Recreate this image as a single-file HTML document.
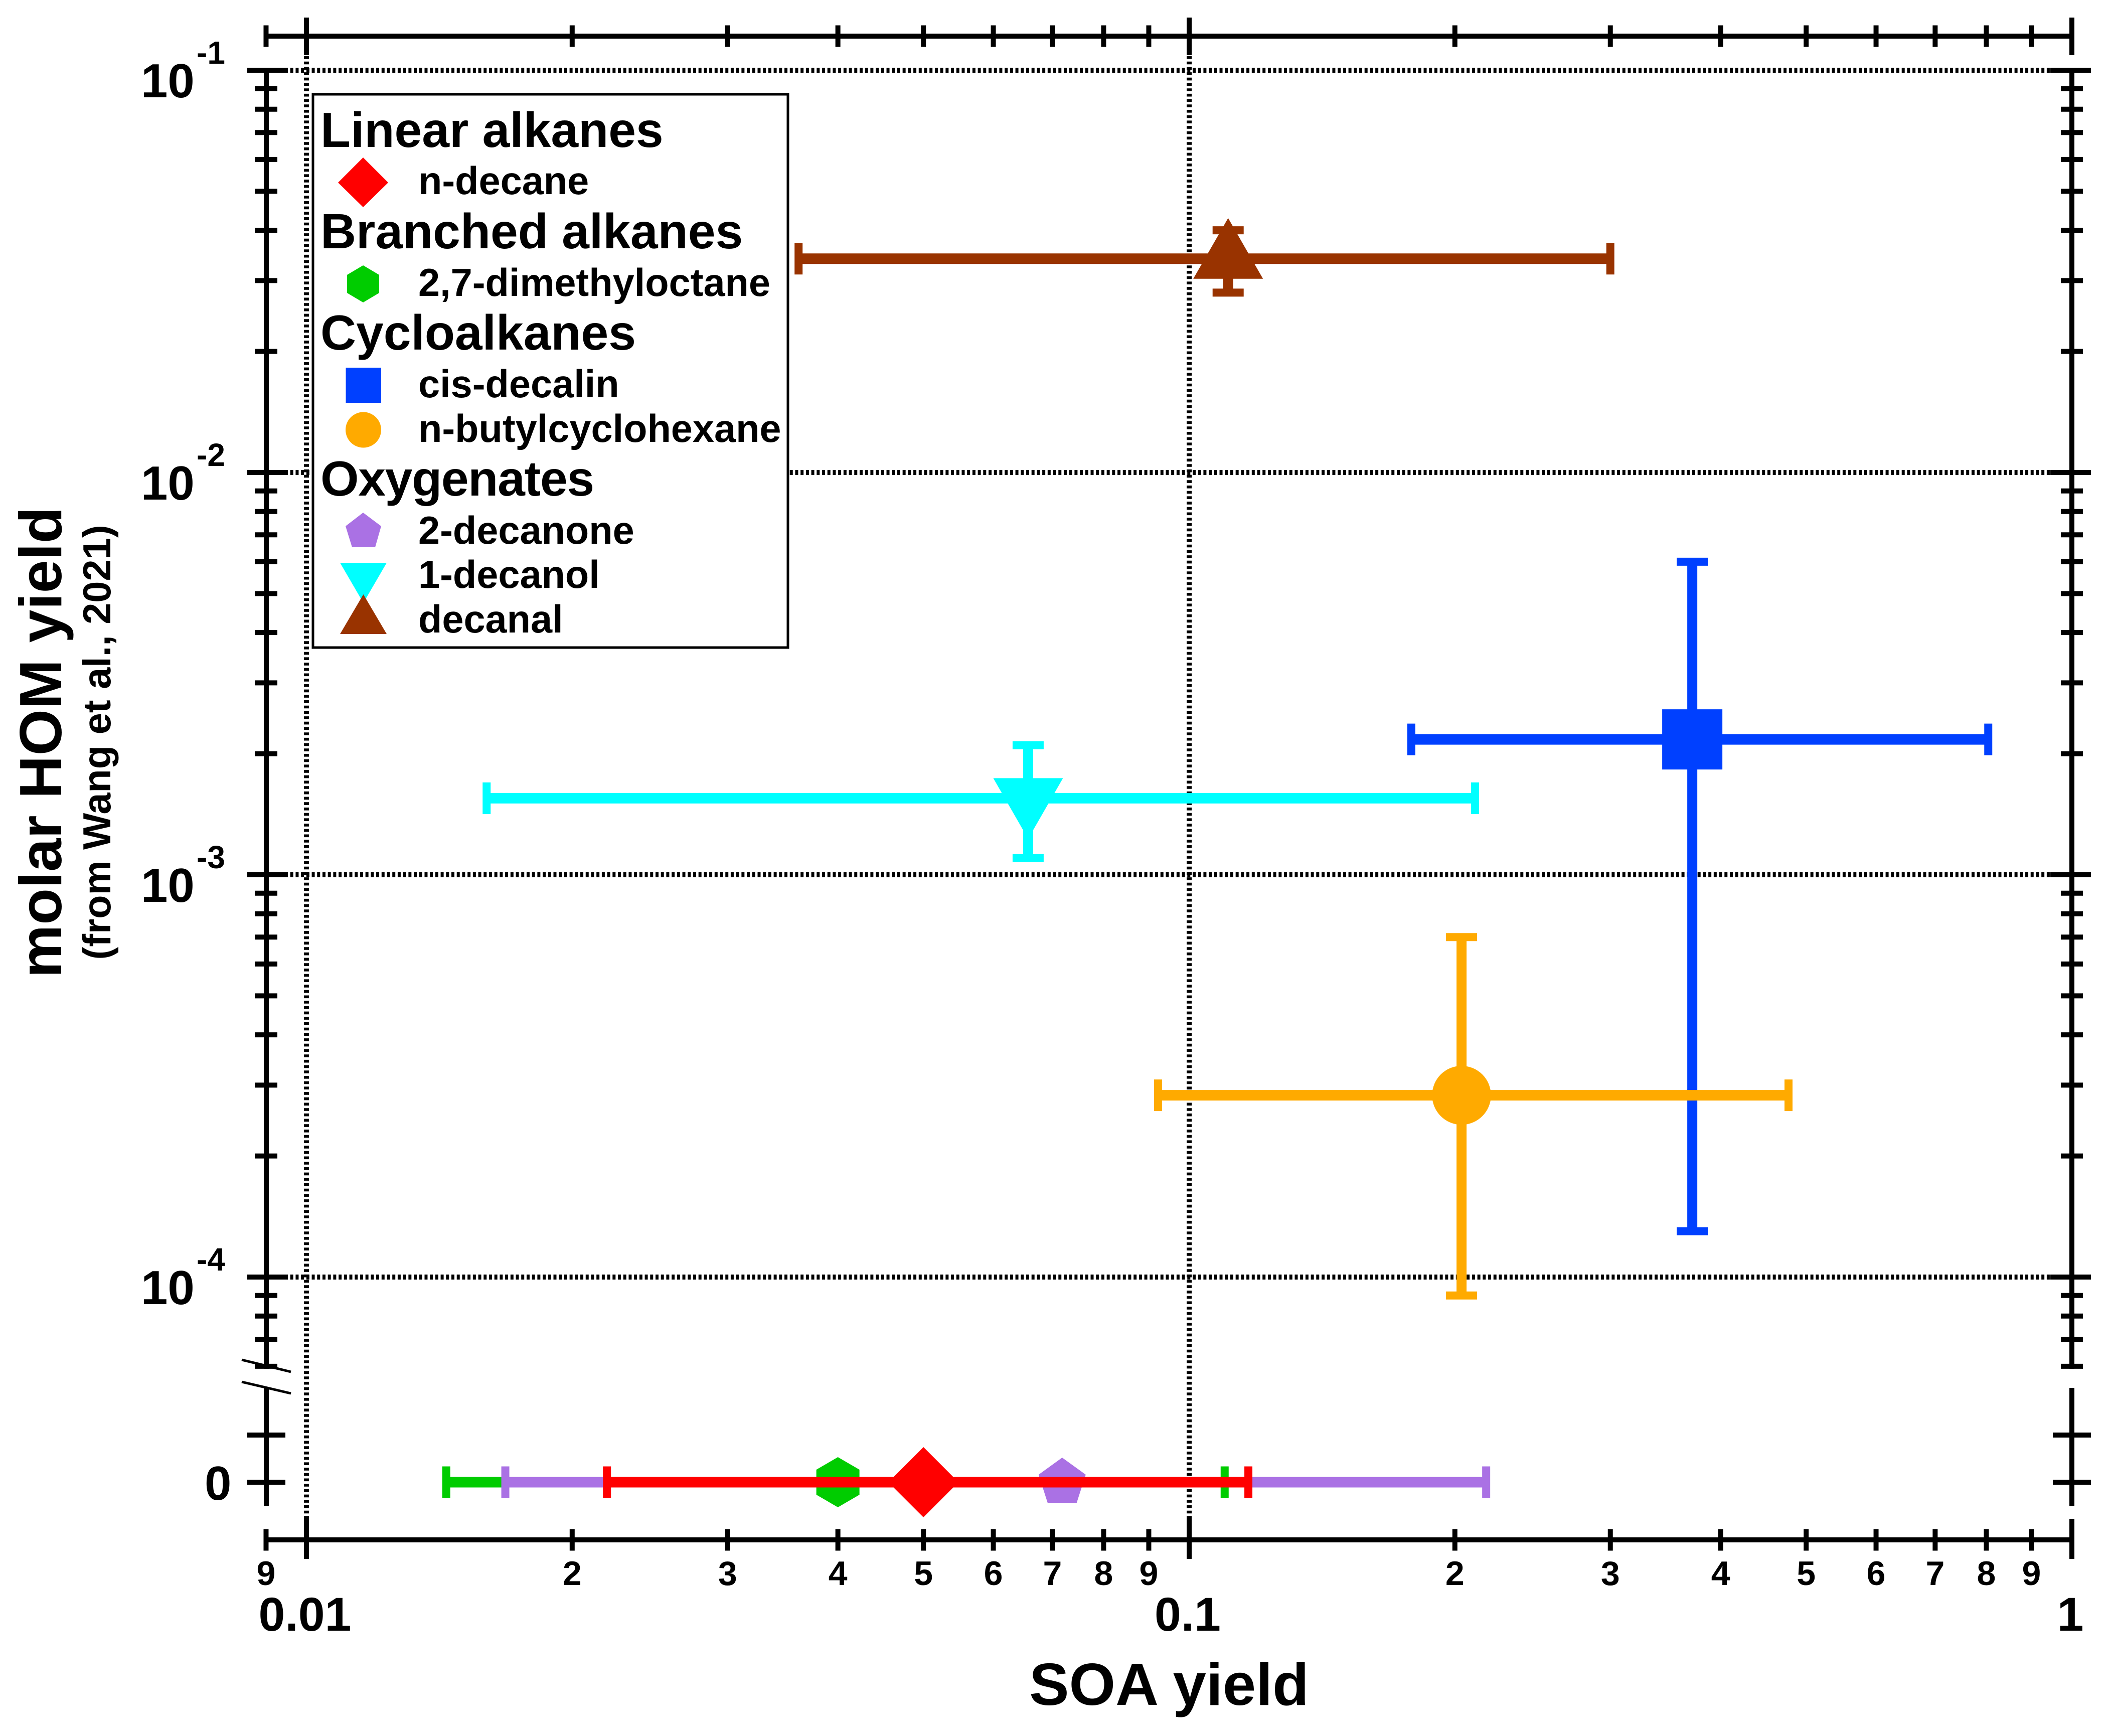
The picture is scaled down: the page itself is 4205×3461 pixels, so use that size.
<!DOCTYPE html>
<html lang="en">
<head>
<meta charset="utf-8">
<title>SOA yield vs molar HOM yield</title>
<style>
html,body{margin:0;padding:0;background:#fff;}
svg{display:block;}
text{font-family:"Liberation Sans",Arial,sans-serif;font-weight:bold;fill:#000;}
</style>
</head>
<body>
<svg id="chart" xmlns="http://www.w3.org/2000/svg" width="4205" height="3461" viewBox="0 0 4205 3461">
<rect x="0" y="0" width="4205" height="3461" fill="#fff"/>
<g id="grid"></g>
<g id="axes"></g>
<g id="series"></g>
<text x="2331" y="3399" font-size="119" text-anchor="middle">SOA yield</text>
<text transform="translate(122 1480) rotate(-90)" font-size="119" text-anchor="middle">molar HOM yield</text>
<text transform="translate(220 1480) rotate(-90)" font-size="77.5" text-anchor="middle">(from Wang et al., 2021)</text>
<g>
<rect x="624" y="188" width="947" height="1103" fill="#fff" stroke="#000" stroke-width="5"/>
<text x="639" y="293" font-size="98.4">Linear alkanes</text>
<polygon points="724,314 774,364 724,413 674,364" fill="#ff0000"/>
<text x="834" y="387" font-size="77.5">n-decane</text>
<text x="639" y="495" font-size="98.4">Branched alkanes</text>
<polygon points="724,529 756,548 756,584 724,603 692,584 692,548" fill="#00cc00"/>
<text x="834" y="590" font-size="77.5">2,7-dimethyloctane</text>
<text x="639" y="697" font-size="98.4">Cycloalkanes</text>
<rect x="689.5" y="733" width="70.5" height="70" fill="#0040ff"/>
<text x="834" y="792" font-size="77.5">cis-decalin</text>
<circle cx="724.5" cy="857" r="35.5" fill="#ffaa00"/>
<text x="834" y="881" font-size="77.5">n-butylcyclohexane</text>
<text x="639" y="988" font-size="98.4" letter-spacing="-1.3">Oxygenates</text>
<polygon points="724,1022 760,1049 748,1091 702,1091 689,1049" fill="#aa71e4"/>
<text x="834" y="1084" font-size="77.5">2-decanone</text>
<polygon points="678,1122 771,1122 724.5,1202" fill="#00ffff"/>
<text x="834" y="1172" font-size="77.5">1-decanol</text>
<polygon points="724.5,1185 771,1264 678,1264" fill="#993300"/>
<text x="834" y="1261" font-size="77.5">decanal</text>
</g>
</svg>
<script>
// ---- chart data ----
const compoundNames = ["1-decanol", "decanal", "cis-decalin", "n-butylcyclohexane", "2,7-dimethyloctane", "2-decanone", "n-decane"];
const soaYield = [0.0657, 0.1107, 0.3715, 0.2035, 0.04, 0.0718, 0.05];
const soaYieldLow = [0.016, 0.0361, 0.1785, 0.0922, 0.0144, 0.0168, 0.0219];
const soaYieldHigh = [0.2108, 0.30, 0.804, 0.4775, 0.1097, 0.217, 0.1167];
const homYield = [0.00155, 0.034, 0.00217, 0.000283, 0, 0, 0];
const homYieldLow = [0.0011, 0.028, 0.00013, 0.00009, null, null, null];
const homYieldHigh = [0.0021, 0.04, 0.006, 0.0007, null, null, null];
const seriesColors = ["#00ffff", "#993300", "#0040ff", "#ffaa00", "#00cc00", "#aa71e4", "#ff0000"];
const seriesShapes = ["triangle-down", "triangle-up", "square", "circle", "hexagon", "pentagon", "diamond"];

const xMajorTicks = [0.01, 0.1, 1];
const xMajorLabels = ["0.01", "0.1", "1"];
const xMinorTicks = [0.009, 0.02, 0.03, 0.04, 0.05, 0.06, 0.07, 0.08, 0.09, 0.2, 0.3, 0.4, 0.5, 0.6, 0.7, 0.8, 0.9];
const xMinorLabels = ["9", "2", "3", "4", "5", "6", "7", "8", "9", "2", "3", "4", "5", "6", "7", "8", "9"];
const yDecades = [0.1, 0.01, 0.001, 0.0001];
const yDecadeExponents = ["-1", "-2", "-3", "-4"];
const yMinorTicks = [
  0.09, 0.08, 0.07, 0.06, 0.05, 0.04, 0.03, 0.02,
  0.009, 0.008, 0.007, 0.006, 0.005, 0.004, 0.003, 0.002,
  0.0009, 0.0008, 0.0007, 0.0006, 0.0005, 0.0004, 0.0003, 0.0002,
  0.00009, 0.00008, 0.00007, 0.00006
];
const yLowerTicks = [0, 0.00001];
const yLowerLabels = ["0", ""];

// ---- axis functions ----
function xScale(v) { return 611 + 1760 * (Math.log10(v) + 2); }
function yScale(v) {
  if (v < 0.00003) return 2955 - 94 * (v / 0.00001);
  return 140 + 802 * (-1 - Math.log10(v));
}

const SVGNS = "http://www.w3.org/2000/svg";
const gridG = document.getElementById("grid");
const axesG = document.getElementById("axes");
const seriesG = document.getElementById("series");

function drawLine(parent, name, x1, y1, x2, y2, color, width, dash) {
  const el = document.createElementNS(SVGNS, "line");
  
  
  el.setAttribute("x1", x1);
  el.setAttribute("y1", y1);
  el.setAttribute("x2", x2);
  el.setAttribute("y2", y2);
  el.setAttribute("stroke", color);
  el.setAttribute("stroke-width", width);
  if (dash) el.setAttribute("stroke-dasharray", dash);
  parent.appendChild(el);
  return el;
}
function drawText(parent, name, x, y, size, anchor, content) {
  const el = document.createElementNS(SVGNS, "text");
  
  
  el.setAttribute("x", x);
  el.setAttribute("y", y);
  el.setAttribute("font-size", size);
  el.setAttribute("text-anchor", anchor);
  el.textContent = content;
  parent.appendChild(el);
  return el;
}

// ---- grid ----
yDecades.forEach(function (v) {
  drawLine(gridG, "horizontal-grid-line", 568, yScale(v), 4088, yScale(v), "#000", 10, "6 4.71");
});
xMajorTicks.slice(0, 2).forEach(function (v) {
  drawLine(gridG, "vertical-grid-line", xScale(v), 112, xScale(v), 3028, "#000", 10, "5.6 5.1");
});

// ---- y axes ----
const AX_L = 531, AX_R = 4131;
drawLine(axesG, "left-axis-upper", AX_L, 135, AX_L, 2729, "#000", 10);
drawLine(axesG, "right-axis-upper", AX_R, 135, AX_R, 2729, "#000", 10);
drawLine(axesG, "left-axis-lower", AX_L, 2767, AX_L, 3002, "#000", 10);
drawLine(axesG, "right-axis-lower", AX_R, 2767, AX_R, 3002, "#000", 10);
drawLine(axesG, "axis-break-mark-upper", 482, 2711, 580, 2735, "#000", 5);
drawLine(axesG, "axis-break-mark-lower", 482, 2755, 580, 2778, "#000", 5);

yDecades.forEach(function (v, i) {
  const y = yScale(v);
  drawLine(axesG, "left-major-tick", 493, y, 569, y, "#000", 10);
  drawLine(axesG, "right-major-tick", 4088, y, 4169, y, "#000", 10);
  drawText(axesG, "y-tick-label-base", 281, y + 54, 96, "start", "10");
  drawText(axesG, "y-tick-label-exponent", 392, y - 13, 64, "start", yDecadeExponents[i]);
});
yMinorTicks.forEach(function (v) {
  const y = yScale(v);
  drawLine(axesG, "left-minor-tick", 508, y, 553, y, "#000", 10);
  drawLine(axesG, "right-minor-tick", 4109, y, 4153, y, "#000", 10);
});
yLowerTicks.forEach(function (v, i) {
  const y = yScale(v);
  drawLine(axesG, "left-lower-tick", 493, y, 569, y, "#000", 10);
  drawLine(axesG, "right-lower-tick", 4093, y, 4169, y, "#000", 10);
  if (yLowerLabels[i]) drawText(axesG, "y-tick-label-zero", 408, y + 35, 96, "start", yLowerLabels[i]);
});

// ---- x axes ----
[72, 3070].forEach(function (ay) {
  const isTop = ay < 1000;
  drawLine(axesG, isTop ? "top-axis" : "bottom-axis", 526, ay, 4131, ay, "#000", 10);
  xMajorTicks.forEach(function (v) {
    drawLine(axesG, isTop ? "top-major-tick" : "bottom-major-tick", xScale(v), isTop ? 35 : 3028, xScale(v), isTop ? 110 : 3108, "#000", 10);
  });
  xMinorTicks.forEach(function (v) {
    drawLine(axesG, isTop ? "top-minor-tick" : "bottom-minor-tick", xScale(v), ay - 21.5, xScale(v), ay + 21.5, "#000", 10);
  });
});
xMinorTicks.forEach(function (v, i) {
  drawText(axesG, "x-minor-tick-label", xScale(v), 3160, 68, "middle", xMinorLabels[i]);
});
xMajorTicks.forEach(function (v, i) {
  drawText(axesG, "x-major-tick-label", xScale(v) - 3, 3251, 95, "middle", xMajorLabels[i]);
});

// ---- markers ----
function markerPoints(shape) {
  if (shape === "diamond") return [[0, -70], [70, 0], [0, 70], [-70, 0]];
  if (shape === "hexagon") return [[0, -50], [43, -25], [43, 25], [0, 50], [-43, 25], [-43, -25]];
  if (shape === "pentagon") return [[0, -49], [47, -15], [29, 41], [-29, 41], [-47, -15]];
  if (shape === "triangle-up") return [[0, -81], [69.5, 40], [-69.5, 40]];
  if (shape === "triangle-down") return [[-69.5, -40], [69.5, -40], [0, 81]];
  return [[-60, -60], [60, -60], [60, 60], [-60, 60]];
}
function drawMarker(parent, name, shape, cx, cy, color) {
  let el;
  if (shape === "circle") {
    el = document.createElementNS(SVGNS, "circle");
    el.setAttribute("cx", cx);
    el.setAttribute("cy", cy);
    el.setAttribute("r", 58.7);
  } else {
    el = document.createElementNS(SVGNS, "polygon");
    el.setAttribute("points", markerPoints(shape).map(function (p) {
      return (cx + p[0]) + "," + (cy + p[1]);
    }).join(" "));
  }
  
  
  el.setAttribute("fill", color);
  parent.appendChild(el);
}

// ---- series ----
compoundNames.forEach(function (name, i) {
  const slug = name.replace(/[^a-z0-9]+/gi, "-");
  const g = document.createElementNS(SVGNS, "g");
  
  
  seriesG.appendChild(g);
  const color = seriesColors[i];
  const cx = xScale(soaYield[i]);
  const cy = yScale(homYield[i]);
  const xl = xScale(soaYieldLow[i]);
  const xh = xScale(soaYieldHigh[i]);
  drawLine(g, "x-error-bar", xl, cy, xh, cy, color, 21);
  drawLine(g, "x-error-cap-low", xl, cy - 31.5, xl, cy + 31.5, color, 16);
  drawLine(g, "x-error-cap-high", xh, cy - 31.5, xh, cy + 31.5, color, 16);
  if (homYieldLow[i] !== null) {
    const yl = yScale(homYieldLow[i]);
    const yh = yScale(homYieldHigh[i]);
    drawLine(g, "y-error-bar", cx, yl, cx, yh, color, 20);
    drawLine(g, "y-error-cap-low", cx - 31, yl, cx + 31, yl, color, 16);
    drawLine(g, "y-error-cap-high", cx - 31, yh, cx + 31, yh, color, 16);
  }
  drawMarker(g, "marker-" + slug, seriesShapes[i], cx, cy, color);
});
</script>
</body>
</html>
